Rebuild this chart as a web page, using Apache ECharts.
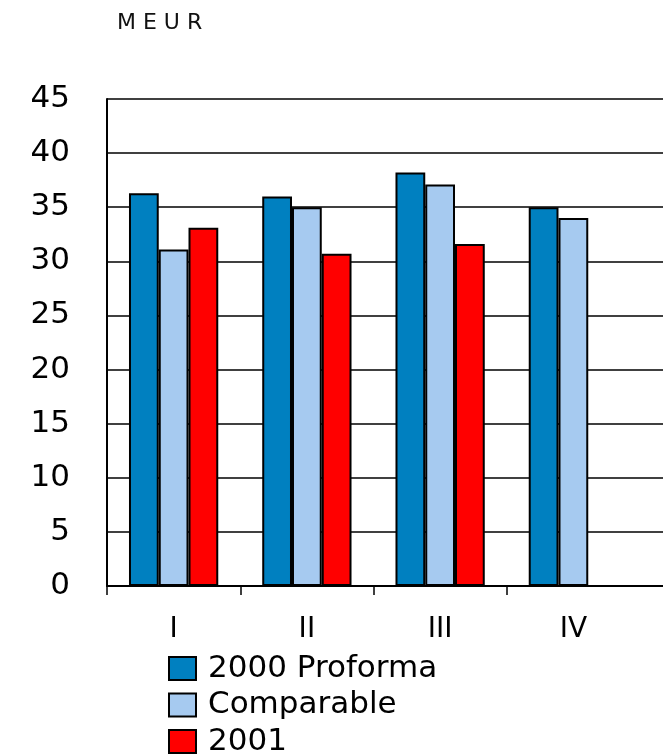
<!DOCTYPE html>
<html>
<head>
<meta charset="utf-8">
<script src="https://cdn.jsdelivr.net/npm/echarts@6/dist/echarts.min.js"></script>
<style>
  html, body { margin: 0; padding: 0; background: #fff; }
  #chart { width: 663px; height: 756px; }
</style>
</head>
<body>
<div id="chart"></div>
<script>
// Quarterly values, MEUR
const quarters = ['I', 'II', 'III', 'IV'];
const proforma2000 = [36.3, 36.0, 38.2, 35.0];
const comparable = [31.1, 35.0, 37.1, 34.0];
const year2001 = [33.1, 30.7, 31.6, null];
const seriesNames = ['2000 Proforma', 'Comparable', '2001'];
const seriesColors = ['#0080C0', '#A6CAF0', '#FF0000'];
const yTicks = { min: 0, max: 45, step: 5 };

const FONT = '"DejaVu Sans", Verdana, sans-serif';

// Plot geometry: the bar grid covers the four quarters, the frame grid runs to the right edge.
const W = 663;
const PLOT_LEFT = 107, PLOT_TOP = 99, PLOT_BOTTOM = 170, BAR_RIGHT = 23;
const barGridWidth = W - PLOT_LEFT - BAR_RIGHT;
const frameGridWidth = W - PLOT_LEFT;
// frame x-axis measured in "quarters" so its ticks sit on quarter boundaries
const frameMax = quarters.length * frameGridWidth / barGridWidth;
const boundaryTicks = quarters.map((q, i) => i);

// Legend: one stacked row per series
const LEGEND_LEFT = 168, LEGEND_TOP = 653, LEGEND_ROW = 36.5;

const chart = echarts.init(document.getElementById('chart'), null, { renderer: 'canvas' });

function barSeries(name, data, color) {
  return {
    name: name,
    type: 'bar',
    xAxisIndex: 0,
    yAxisIndex: 0,
    data: data,
    barGap: '0%',
    barCategoryGap: '33%',
    itemStyle: { color: color, borderColor: '#000', borderWidth: 2 },
    emphasis: { disabled: true },
    z: 3
  };
}

const legends = seriesNames.map((name, i) => ({
  orient: 'vertical',
  left: LEGEND_LEFT,
  top: LEGEND_TOP + i * LEGEND_ROW,
  padding: 0,
  icon: 'rect',
  itemWidth: 27,
  itemHeight: 23,
  selectedMode: false,
  itemStyle: { borderColor: '#000', borderWidth: 2 },
  textStyle: { fontFamily: FONT, fontSize: 31, color: '#000', padding: [0, 0, 0, 7] },
  data: [name]
}));

chart.setOption({
  animation: false,
  backgroundColor: '#fff',
  textStyle: { fontFamily: FONT },
  title: {
    text: 'M E U R',
    left: 112,
    top: 7,
    textStyle: { fontFamily: FONT, fontSize: 22, fontWeight: 'normal', color: '#111' }
  },
  legend: legends,
  grid: [
    { left: PLOT_LEFT, top: PLOT_TOP, bottom: PLOT_BOTTOM, right: BAR_RIGHT },
    { left: PLOT_LEFT, top: PLOT_TOP, bottom: PLOT_BOTTOM, right: 0 }
  ],
  xAxis: [
    {
      type: 'category',
      gridIndex: 0,
      data: quarters,
      axisLine: { show: false },
      axisTick: { show: false },
      axisLabel: { fontFamily: FONT, fontSize: 28, color: '#000', margin: 30 },
      z: 4
    },
    {
      type: 'value',
      gridIndex: 1,
      min: 0,
      max: frameMax,
      axisLine: { show: true, onZero: false, lineStyle: { color: '#000', width: 2 } },
      axisTick: {
        show: true, length: 9, customValues: boundaryTicks,
        lineStyle: { color: '#000', width: 1.5 }
      },
      axisLabel: { show: false },
      splitLine: { show: false },
      z: 4
    }
  ],
  yAxis: [
    {
      type: 'value',
      gridIndex: 0,
      min: yTicks.min, max: yTicks.max, interval: yTicks.step,
      axisLine: { show: true, lineStyle: { color: '#000', width: 2 } },
      axisTick: { show: false },
      axisLabel: { fontFamily: FONT, fontSize: 31, color: '#000', margin: 37 },
      splitLine: { show: false },
      z: 4
    },
    {
      type: 'value',
      gridIndex: 1,
      min: yTicks.min, max: yTicks.max, interval: yTicks.step,
      axisLine: { show: false },
      axisTick: { show: false },
      axisLabel: { show: false },
      splitLine: { show: true, lineStyle: { color: '#000', width: 1.5 } }
    }
  ],
  series: [
    barSeries(seriesNames[0], proforma2000, seriesColors[0]),
    barSeries(seriesNames[1], comparable, seriesColors[1]),
    barSeries(seriesNames[2], year2001, seriesColors[2])
  ]
});
</script>
</body>
</html>
